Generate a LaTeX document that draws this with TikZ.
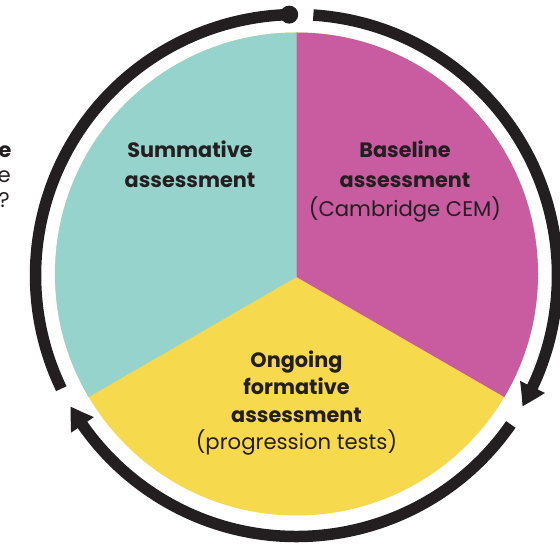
\documentclass[tikz,border=0pt]{standalone}
\usepackage{fontspec}
\setmainfont{Poppins}
\usetikzlibrary{arrows.meta,bending}
\definecolor{tealc}{HTML}{97D3CD}
\definecolor{magc}{HTML}{C95BA1}
\definecolor{yelc}{HTML}{F6D94D}
\definecolor{inkc}{HTML}{231F20}
\begin{document}
\begin{tikzpicture}[x=1pt,y=1pt,
  ring/.style={draw=inkc,line width=11.5pt},
  tipring/.style={ring,-{Triangle[length=22pt,width=26pt,bend]}},
  lbl/.style={inner sep=0pt,anchor=base,text=inkc,font=\fontsize{20.8}{24}\selectfont\bfseries},
  sub/.style={inner sep=0pt,anchor=base,text=inkc,font=\fontsize{21.2}{24}\selectfont}]
\useasboundingbox (0,0) rectangle (560,549);
\coordinate (pc) at (296.5,275);
\coordinate (ap) at (296.5,272);
\coordinate (rc) at (296.5,273.5);
\begin{scope}
  \clip (pc) circle (241.5);
  \fill[yelc] (0,0) rectangle (560,549);
  \fill[tealc] (ap) -- +(210:400) -- +(-400,400) -- +(0,400) -- cycle;
  \fill[magc] (ap) -- +(-30:400) -- +(400,400) -- +(0,400) -- cycle;
\end{scope}
\draw[tipring] ([shift={(86.3:261)}]rc) arc[start angle=86.3, end angle=-30.1, radius=261];
\draw[tipring] ([shift={(-34.8:261)}]rc) arc[start angle=-34.8, end angle=-149.9, radius=261];
\draw[ring] ([shift={(205.7:261)}]rc) arc[start angle=205.7, end angle=91.6, radius=261];
\node[circle,fill=inkc,minimum size=18pt,inner sep=0pt] (dot) at ([shift={(91.6:261)}]rc) {};
\node[lbl] (s1) at (190,391) {Summative};
\node[lbl] (s2) at (190,361) {assessment};
\node[lbl] (b1) at (405,391) {Baseline};
\node[lbl] (b2) at (405,361) {assessment};
\node[sub] (b3) at (405,332) {(Cambridge CEM)};
\node[lbl] (o1) at (296.5,181) {Ongoing};
\node[lbl] (o2) at (296.5,154) {formative};
\node[lbl] (o3) at (296.5,126) {assessment};
\node[sub] (o4) at (296.5,99) {(progression tests)};
\node[lbl,anchor=base east] (l1) at (11.7,391) {e};
\node[sub,anchor=base east] (l2) at (11,366) {e};
\node[sub,anchor=base east] (l3) at (10,341) {?};
\end{tikzpicture}
\end{document}
